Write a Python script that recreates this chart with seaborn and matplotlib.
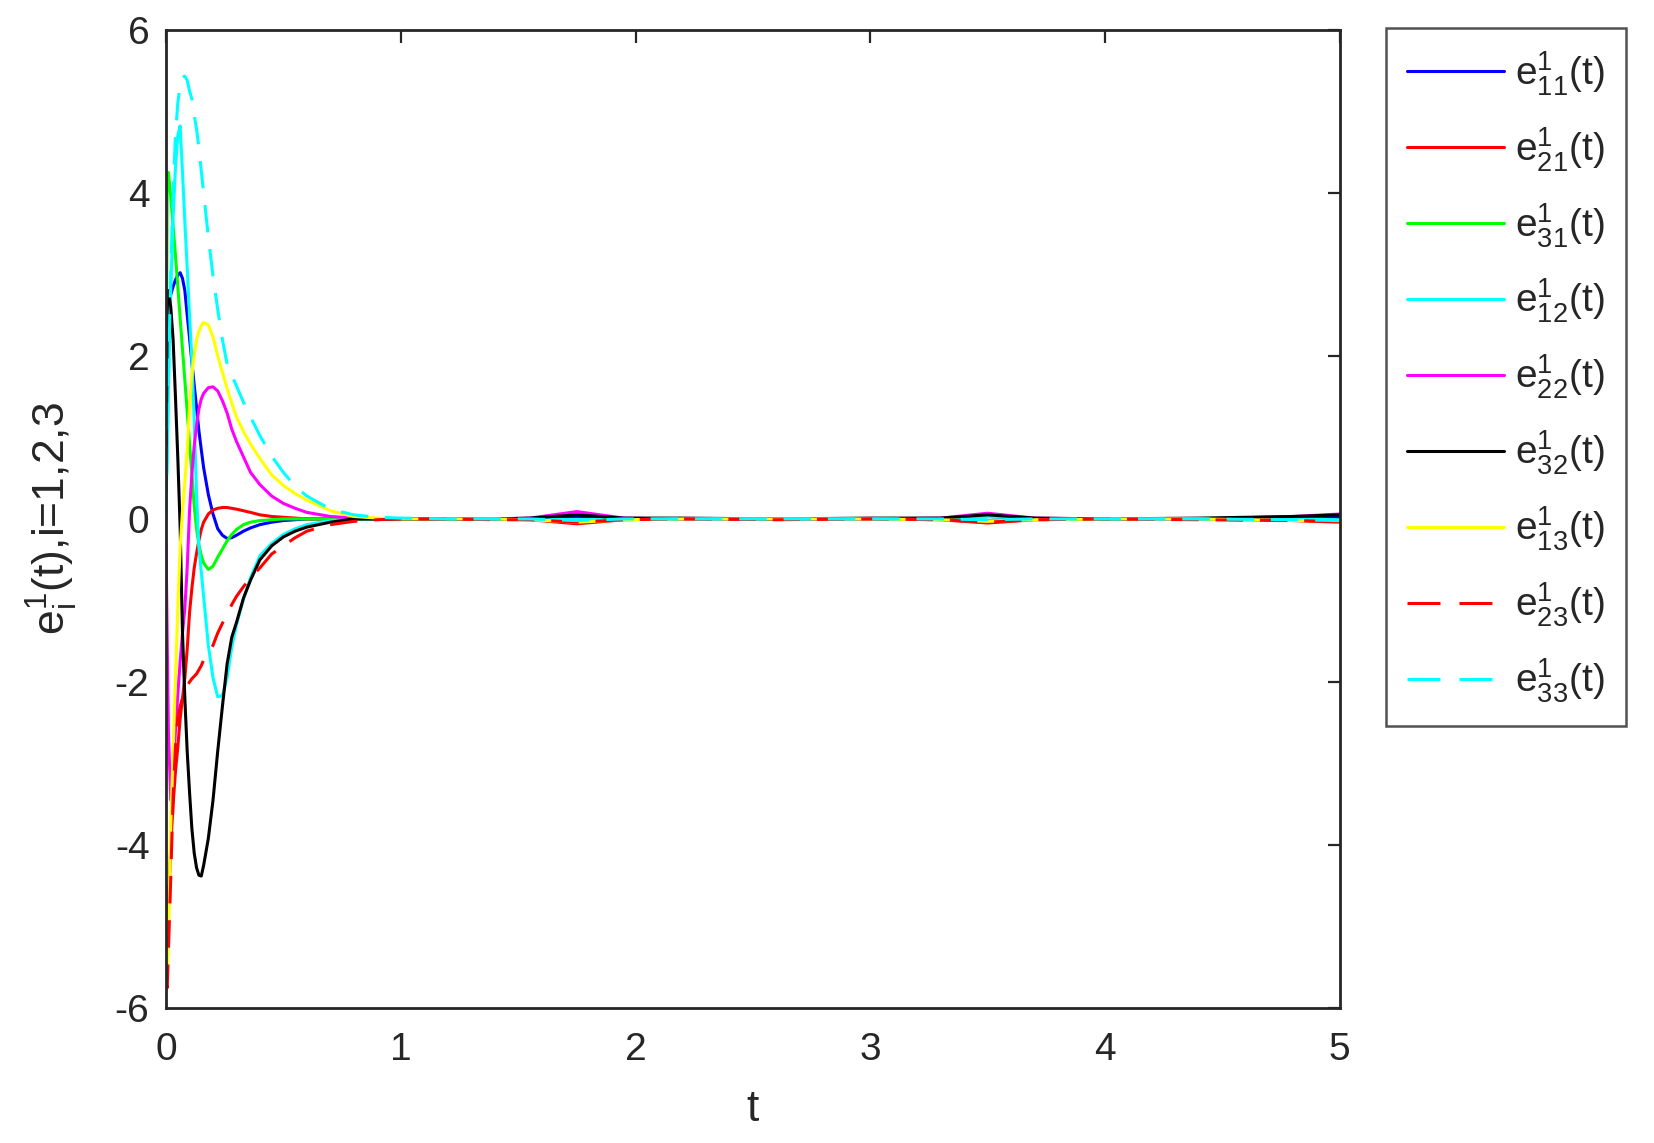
import matplotlib
matplotlib.use('Agg')
import matplotlib.pyplot as plt
import pandas as pd
import seaborn as sns

# time grid (dense near t=0 where everything happens)
t = [0, 0.005, 0.01, 0.02, 0.03, 0.04, 0.05, 0.06, 0.07, 0.08, 0.09, 0.10,
     0.11, 0.12, 0.13, 0.14, 0.15, 0.16, 0.18, 0.20, 0.22, 0.24, 0.26, 0.28,
     0.30, 0.33, 0.36, 0.40, 0.45, 0.50, 0.55, 0.60, 0.70,
     0.8, 0.9, 1.0, 1.2, 1.4, 1.55, 1.75, 1.95, 2.2, 2.6, 3.0, 3.3, 3.5, 3.7,
     4.0, 4.4, 4.8, 5.0]

e11 = [2.5, 2.6, 2.65, 2.75, 2.85, 2.93, 2.99, 3.02, 2.95, 2.8, 2.5, 2.22,
       1.92, 1.64, 1.36, 1.08, 0.85, 0.63, 0.3, 0.06, -0.12, -0.2, -0.24, -0.23,
       -0.2, -0.15, -0.11, -0.07, -0.04, -0.02, -0.01, 0.0, 0.0,
       0, 0, 0, 0, 0, 0, 0.03, 0, 0, 0, 0, 0, 0.03, 0, 0, 0, 0.02, 0.03]
e21 = [-4.5, -5.0, -4.8, -4.0, -3.5, -3.1, -2.8, -2.45, -2.2, -1.95, -1.6, -1.15,
       -0.85, -0.6, -0.42, -0.26, -0.13, -0.04, 0.06, 0.11, 0.13, 0.14, 0.14, 0.13,
       0.12, 0.1, 0.08, 0.05, 0.03, 0.02, 0.01, 0.0, 0.0,
       0, 0, 0, 0, 0, -0.01, -0.06, -0.01, 0, 0, 0, -0.01, -0.05, -0.01, 0, 0, -0.02, -0.04]
e31 = [1.2, 4.2, 4.25, 3.95, 3.6, 3.23, 2.85, 2.46, 2.08, 1.7, 1.32, 0.93,
       0.55, 0.15, -0.12, -0.32, -0.45, -0.54, -0.62, -0.58, -0.47, -0.37, -0.27, -0.19,
       -0.13, -0.07, -0.04, -0.02, -0.01, 0, 0, 0, 0,
       0, 0, 0, 0, 0, 0, -0.02, 0, 0, 0, 0, 0, -0.02, 0, 0, 0, -0.01, -0.02]
e12 = [0.2, 0.8, 1.6, 2.8, 3.7, 4.3, 4.7, 4.82, 4.25, 3.65, 3.08, 2.5,
       1.95, 1.2, 0.3, -0.35, -0.65, -0.95, -1.55, -1.95, -2.18, -2.17, -1.95, -1.57,
       -1.3, -0.98, -0.72, -0.45, -0.3, -0.19, -0.12, -0.07, -0.02,
       0, 0, 0, 0, 0, 0, -0.01, 0, 0, 0, 0, 0, 0.03, 0, 0, 0, 0, -0.01]
e22 = [-0.3, -1.5, -2.6, -3.45, -3.1, -2.6, -2.15, -1.75, -1.4, -1.1, -0.6, 0.1,
       0.55, 0.9, 1.15, 1.35, 1.47, 1.54, 1.61, 1.62, 1.57, 1.45, 1.3, 1.1,
       0.95, 0.76, 0.57, 0.42, 0.28, 0.19, 0.13, 0.08, 0.03,
       0.01, 0, 0, 0, 0, 0.01, 0.09, 0.01, 0, 0, 0, 0.01, 0.07, 0.01, 0, 0, 0.03, 0.06]
e32 = [0.3, 2.7, 2.8, 2.6, 2.2, 1.5, 0.75, -0.1, -1.4, -2.2, -2.85, -3.35,
       -3.8, -4.1, -4.28, -4.37, -4.38, -4.25, -3.92, -3.45, -2.85, -2.3, -1.78, -1.45,
       -1.27, -0.97, -0.75, -0.5, -0.33, -0.22, -0.15, -0.1, -0.04,
       0, 0, 0, 0, 0, 0.01, 0.05, 0.01, 0.01, 0, 0.01, 0.01, 0.05, 0.01, 0, 0.01, 0.03, 0.05]
e13 = [-5.0, -5.6, -5.2, -3.75, -2.85, -1.95, -1.1, -0.35, 0.1, 0.45, 0.85, 1.35,
       1.78, 2.0, 2.2, 2.3, 2.37, 2.41, 2.38, 2.23, 2.0, 1.8, 1.6, 1.42,
       1.25, 1.07, 0.92, 0.74, 0.54, 0.41, 0.31, 0.23, 0.1,
       0.03, 0.01, 0, 0, 0, -0.01, -0.04, -0.01, 0, 0, 0, -0.01, -0.03, -0.01, 0, 0, -0.02, -0.02]
e23 = [-5.7, -5.75, -5.3, -4.4, -3.4, -2.8, -2.45, -2.3, -2.2, -2.12, -2.05, -2.0,
       -1.96, -1.93, -1.9, -1.85, -1.8, -1.73, -1.65, -1.55, -1.4, -1.28, -1.17, -1.05,
       -0.95, -0.83, -0.72, -0.6, -0.43, -0.33, -0.23, -0.15, -0.07,
       -0.03, -0.01, 0, 0, -0.01, -0.01, -0.04, -0.01, 0, -0.01, 0, -0.01, -0.04, -0.01, 0, -0.01, -0.02, -0.03]
e33 = [0.0, 0.8, 1.7, 3.0, 4.0, 4.7, 5.1, 5.32, 5.42, 5.43, 5.38, 5.25,
       5.15, 4.95, 4.78, 4.55, 4.27, 4.0, 3.46, 2.98, 2.57, 2.2, 1.9, 1.76,
       1.63, 1.43, 1.25, 1.02, 0.77, 0.57, 0.4, 0.28, 0.12,
       0.05, 0.02, 0.01, 0, 0, 0, -0.02, 0, 0, 0, 0, 0, -0.01, 0, 0, 0, -0.01, -0.02]

series_names = ['e11', 'e21', 'e31', 'e12', 'e22', 'e32', 'e13', 'e23', 'e33']
series_vals = [e11, e21, e31, e12, e22, e32, e13, e23, e33]
legend_labels = [r'$\mathregular{e^{1}_{%s}}$(t)' % n[1:] for n in series_names]

colors = {'e11': '#0000ff', 'e21': '#ff0000', 'e31': '#00ff00', 'e12': '#00ffff',
          'e22': '#ff00ff', 'e32': '#000000', 'e13': '#ffff00', 'e23': '#ff0000',
          'e33': '#00ffff'}
dashes = {n: '' for n in series_names}
dashes['e23'] = (9, 5.5)
dashes['e33'] = (9, 5.5)

df = pd.concat([pd.DataFrame({'t': t, 'value': v, 'series': n})
                for n, v in zip(series_names, series_vals)], ignore_index=True)

sns.set_style('white')
plt.rcParams['font.family'] = ['Liberation Sans', 'DejaVu Sans']
plt.rcParams['mathtext.fontset'] = 'custom'
plt.rcParams['mathtext.rm'] = 'Liberation Sans'
plt.rcParams['mathtext.it'] = 'Liberation Sans'

fig = plt.figure(figsize=(16.54, 11.43), dpi=100)
ax = fig.add_axes([0.1004, 0.118, 0.7096, 0.856])

sns.lineplot(data=df, x='t', y='value', hue='series', style='series',
             palette=colors, dashes=dashes, hue_order=series_names,
             style_order=series_names, estimator=None, sort=False,
             linewidth=2.2, ax=ax)

ax.set_xlim(0, 5)
ax.set_ylim(-6, 6)
ax.set_xticks([0, 1, 2, 3, 4, 5])
ax.set_yticks([-6, -4, -2, 0, 2, 4, 6])
ax.set_xticklabels(['0', '1', '2', '3', '4', '5'])
ax.set_yticklabels(['-6', '-4', '-2', '0', '2', '4', '6'])
ax.tick_params(direction='in', length=9, width=1.6, top=True, right=True,
               labelsize=28, colors='#262626')
ax.tick_params(axis='x', pad=17)
ax.tick_params(axis='y', pad=12)
for sp in ax.spines.values():
    sp.set_color('#262626')
    sp.set_linewidth(2.0)

ax.set_xlabel('t', fontsize=32, color='#262626', labelpad=15)
ax.set_ylabel(r'$\mathregular{e^{1}_{i}}$(t),i=1,2,3', fontsize=32,
              color='#262626', labelpad=25)

handles, _ = ax.get_legend_handles_labels()
ax.get_legend().remove()
leg = fig.legend(handles[:9], legend_labels, loc='upper left',
                 bbox_to_anchor=(0.8377, 0.9755), borderaxespad=0,
                 fontsize=28, frameon=True, fancybox=False,
                 edgecolor='#262626', handlelength=2.5, labelspacing=0.71,
                 borderpad=0.55, handletextpad=0.28)
leg.get_frame().set_linewidth(1.8)
for name, h in zip(series_names, leg.get_lines()):
    h.set_linewidth(2.2)
    if dashes[name]:
        # two full dashes in the legend sample, as in the original figure
        h.set_dashes((10.8, 6.2))

fig.savefig('out.png', dpi=100)
plt.close(fig)
